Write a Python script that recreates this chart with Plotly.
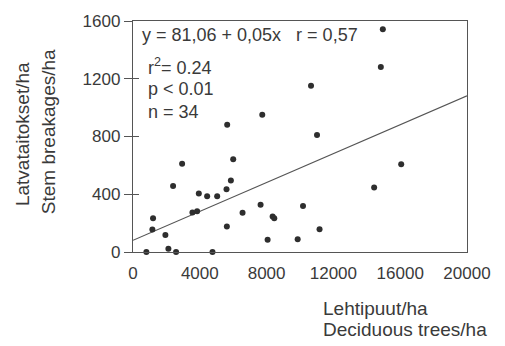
import plotly.graph_objects as go

# Data
deciduous = [14960, 14840, 10660, 11020, 7740, 5640, 2940, 6000, 2400, 5860,
             5600, 3940, 4440, 5040, 3560, 3840, 1200, 6560, 7640, 8360,
             8460, 10180, 1160, 1940, 5620, 8060, 9860, 11170, 800, 2120,
             2580, 4760, 16060, 14440]
breakages = [1543, 1281, 1151, 810, 950, 882, 612, 642, 457, 495,
             434, 405, 387, 387, 273, 282, 233, 271, 327, 246,
             233, 318, 155, 118, 177, 85, 89, 157, 0, 22,
             0, 0, 607, 446]
intercept = 81.06
slope = 0.05
line_x = [0, 20000]
line_y = [intercept + slope * v for v in line_x]

x_ticks = [0, 4000, 8000, 12000, 16000, 20000]
y_ticks = [0, 400, 800, 1200, 1600]

stats_lines = ["y = 81,06 + 0,05x   r = 0,57", "r<sup>2</sup>= 0.24", "p < 0.01", "n = 34"]
y_title_lines = ["Latvataitokset/ha", "Stem breakages/ha"]
x_title_lines = ["Lehtipuut/ha", "Deciduous trees/ha"]

W, H = 505, 346
L, R, T, B = 133, 38, 13, 94
PW, PH = W - L - R, H - T - B

def px(xp):
    return (xp - L) / PW

def py(yp):
    return (H - B - yp) / PH

TXT = "#3a3a3a"
FONT = "Liberation Sans, Arial, Helvetica, sans-serif"

fig = go.Figure()
fig.add_trace(go.Scatter(x=line_x, y=line_y, mode="lines",
                         line=dict(color="#555555", width=1.2), showlegend=False,
                         hoverinfo="skip"))
fig.add_trace(go.Scatter(x=deciduous, y=breakages, mode="markers",
                         marker=dict(color="#2e2e2e", size=6), showlegend=False,
                         cliponaxis=False))

axis_common = dict(showgrid=False, zeroline=False, linecolor="#555555", linewidth=1.3,
                   mirror=True, tickfont=dict(size=17, color=TXT, family=FONT))

fig.update_layout(
    width=W, height=H,
    margin=dict(l=L, r=R, t=T, b=B, pad=0),
    paper_bgcolor="white", plot_bgcolor="white",
    font=dict(family=FONT, color=TXT),
    xaxis=dict(range=[0, 20000], tickvals=x_ticks, ticktext=[str(v) for v in x_ticks],
               ticks="outside", ticklen=5, tickcolor="rgba(0,0,0,0)", **axis_common),
    yaxis=dict(range=[0, 1600], tickvals=y_ticks, ticktext=[str(v) for v in y_ticks],
               ticks="outside", ticklen=8, tickwidth=1.2, tickcolor="#555555", **axis_common),
    yaxis2=dict(range=[0, 1600], overlaying="y", side="left", tickvals=y_ticks,
                showticklabels=False, ticks="inside", ticklen=6, tickwidth=1.2,
                tickcolor="#555555", showgrid=False, zeroline=False, showline=False),
)
# invisible trace to activate yaxis2
fig.add_trace(go.Scatter(x=[None], y=[None], yaxis="y2", showlegend=False))

ann = []
stat_pos = [(140, 28), (146, 60), (146, 83), (146, 107)]
for t, (xp, yp) in zip(stats_lines, stat_pos):
    ann.append(dict(text=t, x=px(xp), y=py(yp), xref="paper", yref="paper",
                    xanchor="left", yanchor="middle", showarrow=False,
                    font=dict(size=18, color=TXT, family=FONT)))
for t, (xp, yp) in zip(y_title_lines, [(22, 130), (48, 128)]):
    ann.append(dict(text=t, x=px(xp), y=py(yp), xref="paper", yref="paper",
                    xanchor="center", yanchor="middle", textangle=-90, showarrow=False,
                    font=dict(size=19, color=TXT, family=FONT)))
for t, (xp, yp) in zip(x_title_lines, [(321, 310), (321, 332)]):
    ann.append(dict(text=t, x=px(xp), y=py(yp), xref="paper", yref="paper",
                    xanchor="left", yanchor="middle", showarrow=False,
                    font=dict(size=19, color=TXT, family=FONT)))
fig.update_layout(annotations=ann)

fig.write_html("out.html")
